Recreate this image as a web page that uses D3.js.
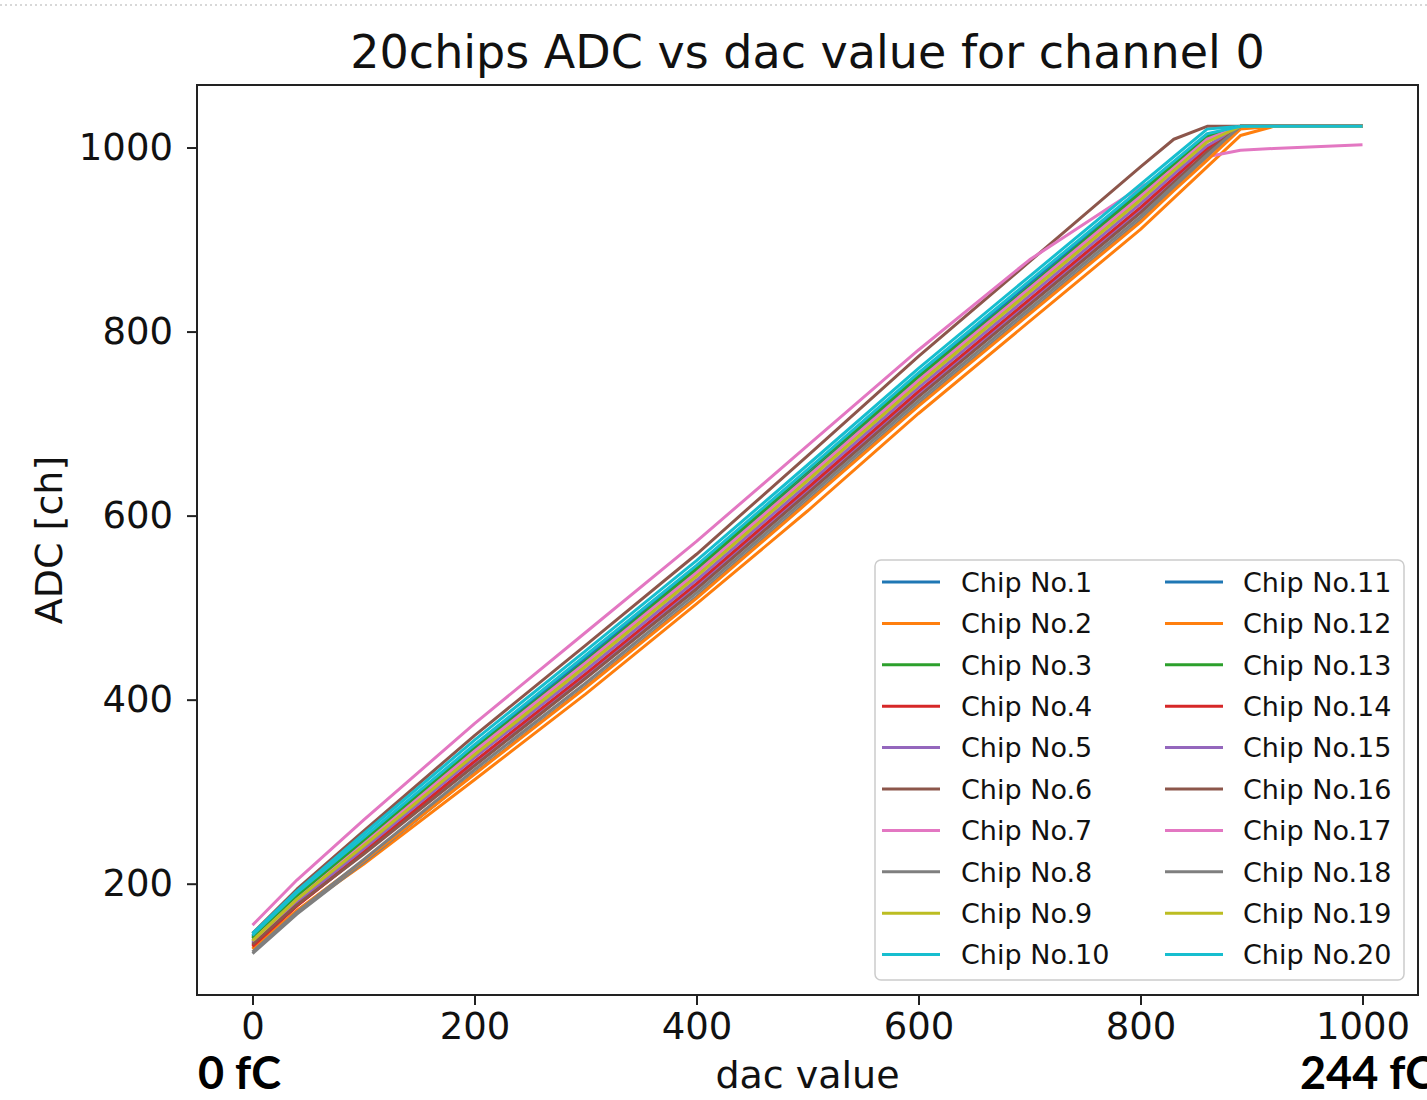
<!DOCTYPE html>
<html lang="en">
  <head>
    <meta charset="utf-8">
    <title>20chips ADC vs dac value</title>
    <script src="https://d3js.org/d3.v7.min.js"></script>
    <style>
      body { margin: 0; background: white; }
    </style>
  </head>
  <body>
    <script type="text/javascript">

      // dac points shared by every chip
      var dac = [0, 40, 100, 200, 300, 400, 500, 600, 700, 800, 830, 860, 890, 920, 1000];

      // ADC readings per chip
      var chip1  = [142, 187, 247, 348, 444, 542, 644, 751, 853, 951, 981, 1011, 1023, 1023, 1023];
      var chip2  = [130, 170, 221, 313, 406, 504, 605, 711, 811, 911, 945, 979, 1013, 1023, 1023];
      var chip3  = [140, 185, 245, 346, 442, 540, 644, 747, 849, 949, 979, 1009, 1023, 1023, 1023];
      var chip4  = [133, 176, 233, 330, 424, 522, 626, 731, 831, 931, 963, 996, 1023, 1023, 1023];
      var chip5  = [135, 178, 235, 332, 426, 524, 628, 733, 833, 933, 965, 997, 1023, 1023, 1023];
      var chip6  = [146, 194, 257, 361, 459, 558, 665, 773, 876, 979, 1009, 1023, 1023, 1023, 1023];
      var chip7  = [155, 204, 269, 374, 473, 572, 676, 780, 878, 957, 976, 990, 997, 999, 1003];
      var chip8  = [124, 167, 223, 320, 414, 512, 616, 721, 821, 921, 956, 990, 1023, 1023, 1023];
      var chip9  = [137, 182, 242, 342, 438, 536, 640, 745, 845, 945, 977, 1008, 1023, 1023, 1023];
      var chip10 = [146, 192, 254, 356, 453, 551, 655, 760, 860, 960, 990, 1020, 1023, 1023, 1023];
      var chip11 = [143, 189, 249, 349, 446, 544, 648, 753, 853, 953, 983, 1013, 1023, 1023, 1023];
      var chip12 = [129, 171, 225, 319, 413, 510, 614, 719, 819, 919, 953, 986, 1020, 1023, 1023];
      var chip13 = [141, 187, 247, 347, 441, 542, 649, 751, 848, 951, 982, 1012, 1023, 1023, 1023];
      var chip14 = [132, 176, 234, 333, 428, 526, 630, 735, 835, 935, 967, 999, 1023, 1023, 1023];
      var chip15 = [136, 180, 238, 337, 432, 530, 634, 739, 839, 939, 971, 1002, 1023, 1023, 1023];
      var chip16 = [134, 177, 232, 328, 423, 520, 624, 729, 829, 929, 962, 995, 1023, 1023, 1023];
      var chip17 = [138, 183, 243, 344, 440, 538, 642, 747, 847, 947, 978, 1009, 1023, 1023, 1023];
      var chip18 = [126, 169, 226, 324, 418, 516, 620, 725, 825, 925, 959, 992, 1023, 1023, 1023];
      var chip19 = [138, 183, 241, 340, 436, 534, 638, 743, 843, 943, 975, 1006, 1023, 1023, 1023];
      var chip20 = [144, 190, 250, 351, 448, 546, 650, 755, 855, 955, 985, 1015, 1023, 1023, 1023];

      var chips = [chip1, chip2, chip3, chip4, chip5, chip6, chip7, chip8, chip9, chip10,
                   chip11, chip12, chip13, chip14, chip15, chip16, chip17, chip18, chip19, chip20];
      var chipNames = chips.map(function(d, i) { return "Chip No." + (i + 1); });

      var colors = ["#1f77b4", "#ff7f0e", "#2ca02c", "#d62728", "#9467bd",
                    "#8c564b", "#e377c2", "#7f7f7f", "#bcbd22", "#17becf"];

      var xTicks = [0, 200, 400, 600, 800, 1000];
      var yTicks = [200, 400, 600, 800, 1000];

      //Width and height
      var w = 1427;
      var h = 1100;
      var box = {left: 197, right: 1418, top: 85, bottom: 995};
      var font = "DejaVu Sans, Liberation Sans, sans-serif";

      var svg = d3.select("body")
        .append("svg")
          .attr("width", w)
          .attr("height", h);

      svg.append("rect")
          .attr("width", w)
          .attr("height", h)
          .attr("fill", "white");

      // faint dotted edge at the very top of the slide
      svg.append("line")
          .attr("x1", 0).attr("x2", w)
          .attr("y1", 5).attr("y2", 5)
          .attr("stroke", "#d8d8d8")
          .attr("stroke-width", 2)
          .attr("stroke-dasharray", "2,3");

      // matplotlib style 5% margins
      var xMin = d3.min(dac), xMax = d3.max(dac);
      var yMin = d3.min(chips, function(c) { return d3.min(c); });
      var yMax = d3.max(chips, function(c) { return d3.max(c); });
      var xPad = (xMax - xMin) * 0.05, yPad = (yMax - yMin) * 0.05;

      var xScale = d3.scaleLinear()
          .domain([xMin - xPad, xMax + xPad])
          .range([box.left, box.right]);

      var yScale = d3.scaleLinear()
          .domain([yMin - yPad, yMax + yPad])
          .range([box.bottom, box.top]);

      // lines
      var line = d3.line()
          .x(function(d, i) { return xScale(dac[i]); })
          .y(function(d) { return yScale(d); });

      svg.append("g")
          .attr("id", "lines")
        .selectAll("path")
        .data(chips)
        .enter().append("path")
          .attr("d", line)
          .attr("fill", "none")
          .attr("stroke", function(d, i) { return colors[i % 10]; })
          .attr("stroke-width", 3)
          .attr("stroke-linejoin", "round");

      // axes
      var xAxis = d3.axisBottom(xScale)
          .tickValues(xTicks)
          .tickFormat(d3.format("d"))
          .tickSize(10)
          .tickPadding(8);

      var yAxis = d3.axisLeft(yScale)
          .tickValues(yTicks)
          .tickFormat(d3.format("d"))
          .tickSize(10)
          .tickPadding(14);

      var gx = svg.append("g")
          .attr("transform", `translate(0, ${box.bottom})`)
          .call(xAxis);

      var gy = svg.append("g")
          .attr("transform", `translate(${box.left}, 0)`)
          .call(yAxis);

      [gx, gy].forEach(function(g) {
        g.select(".domain").remove();
        g.selectAll(".tick line").attr("stroke", "#222").attr("stroke-width", 2);
        g.selectAll(".tick text")
            .attr("fill", "#111")
            .style("font-family", font)
            .style("font-size", "37px");
      });

      // frame
      svg.append("rect")
          .attr("x", box.left)
          .attr("y", box.top)
          .attr("width", box.right - box.left)
          .attr("height", box.bottom - box.top)
          .attr("fill", "none")
          .attr("stroke", "#222")
          .attr("stroke-width", 2);

      // title and axis labels
      svg.append("text")
          .attr("x", (box.left + box.right) / 2)
          .attr("y", 68)
          .attr("text-anchor", "middle")
          .style("font-family", font)
          .style("font-size", "46px")
          .attr("fill", "#111")
          .text("20chips ADC vs dac value for channel 0");

      svg.append("text")
          .attr("x", (box.left + box.right) / 2)
          .attr("y", 1088)
          .attr("text-anchor", "middle")
          .style("font-family", font)
          .style("font-size", "38px")
          .attr("fill", "#111")
          .text("dac value");

      svg.append("text")
          .attr("transform", "translate(62, 540) rotate(-90)")
          .attr("text-anchor", "middle")
          .style("font-family", font)
          .style("font-size", "38px")
          .attr("fill", "#111")
          .text("ADC [ch]");

      // legend
      var legend = svg.append("g").attr("id", "legend");

      legend.append("rect")
          .attr("x", 875)
          .attr("y", 560)
          .attr("width", 529)
          .attr("height", 420)
          .attr("rx", 6)
          .attr("fill", "white")
          .attr("fill-opacity", 0.8)
          .attr("stroke", "#cccccc")
          .attr("stroke-width", 1.5);

      var cols = [{line: 882, text: 961}, {line: 1165, text: 1243}];

      var items = legend.selectAll("g.item")
          .data(chipNames)
          .enter().append("g")
          .attr("class", "item")
          .attr("transform", function(d, i) {
            var c = cols[Math.floor(i / 10)];
            return `translate(${c.line}, ${582 + (i % 10) * 41.4})`;
          });

      items.append("line")
          .attr("x1", 0).attr("x2", 58)
          .attr("y1", 0).attr("y2", 0)
          .attr("stroke", function(d, i) { return colors[i % 10]; })
          .attr("stroke-width", 3);

      items.append("text")
          .attr("x", function(d, i) { var c = cols[Math.floor(i / 10)]; return c.text - c.line; })
          .attr("dy", "0.36em")
          .style("font-family", font)
          .style("font-size", "27px")
          .attr("fill", "#111")
          .text(function(d) { return d; });

      // charge annotations under the x axis
      svg.append("text")
          .attr("x", 198)
          .attr("y", 1089)
          .style("font-family", "Lato, Open Sans, sans-serif")
          .style("font-weight", "bold")
          .style("font-size", "45px")
          .attr("fill", "black")
          .text("0 fC");

      svg.append("text")
          .attr("x", 1300)
          .attr("y", 1089)
          .style("font-family", "Lato, Open Sans, sans-serif")
          .style("font-weight", "bold")
          .style("font-size", "45px")
          .attr("fill", "black")
          .text("244 fC");

    </script>
  </body>
</html>
